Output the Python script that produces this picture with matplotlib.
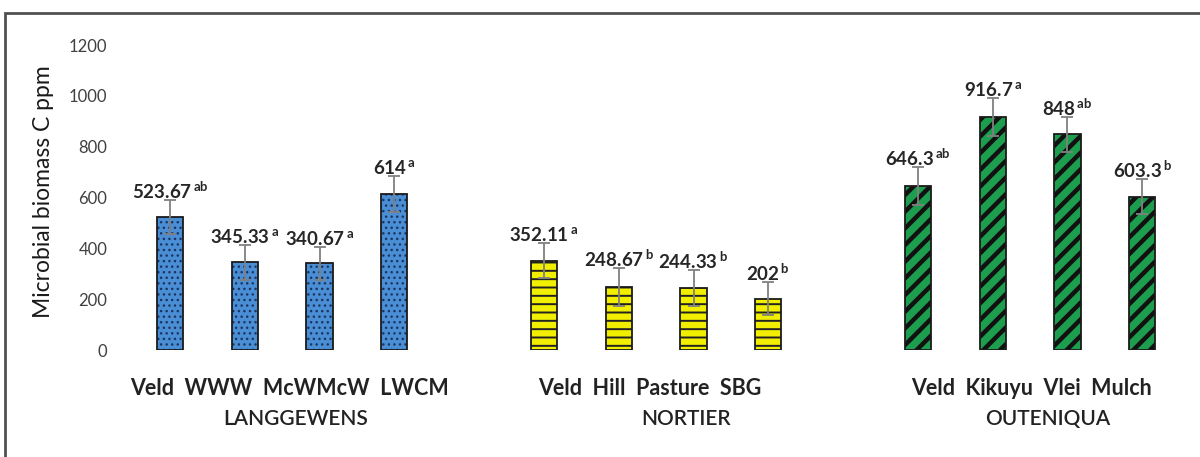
import numpy as np
import matplotlib
matplotlib.use('Agg')
import matplotlib.pyplot as plt
from matplotlib.transforms import blended_transform_factory
from matplotlib.patches import Rectangle

plt.rcParams['font.family'] = ['Lato', 'DejaVu Sans']
plt.rcParams['mathtext.fontset'] = 'custom'
plt.rcParams['mathtext.rm'] = 'Lato'
plt.rcParams['mathtext.bf'] = 'Lato:bold'

# data
sites = ['LANGGEWENS', 'NORTIER', 'OUTENIQUA']
cats_lang = ['Veld', 'WWW', 'McWMcW', 'LWCM']
cats_nort = ['Veld', 'Hill', 'Pasture', 'SBG']
cats_oute = ['Veld', 'Kikuyu', 'Vlei', 'Mulch']
vals_lang = [523.67, 345.33, 340.67, 614]
vals_nort = [352.11, 248.67, 244.33, 202]
vals_oute = [646.3, 916.7, 848, 603.3]
err_lang = [67, 68, 65, 71]
err_nort = [69, 74, 70, 66]
err_oute = [74, 75, 69, 70]
lbl_lang = ['523.67', '345.33', '340.67', '614']
lbl_nort = ['352.11', '248.67', '244.33', '202']
lbl_oute = ['646.3', '916.7', '848', '603.3']
sig_lang = ['ab', 'a', 'a', 'a']
sig_nort = ['a', 'b', 'b', 'b']
sig_oute = ['ab', 'a', 'ab', 'b']

# where the typed category line / site name sit, relative to the group's first bar
cat_line_off = [1.60, 1.42, 1.52]
site_off = [1.68, 1.90, 1.74]

groups = [
    (cats_lang, vals_lang, err_lang, lbl_lang, sig_lang, '#4a8fd6', '#1c3561', '...', 1.0),
    (cats_nort, vals_nort, err_nort, lbl_nort, sig_nort, '#f2ee00', '#222222', '--', 1.4),
    (cats_oute, vals_oute, err_oute, lbl_oute, sig_oute, '#1d9e4e', '#111111', '//', 3.2),
]

fig = plt.figure(figsize=(12, 4.57), dpi=100)
ax = fig.add_axes([0.0918, 0.234, 0.8975, 0.6675])
tr = blended_transform_factory(ax.transData, ax.transAxes)

start = 0
for gi, (cats, vals, errs, lbls, sigs, fc, hc, hatch, hlw) in enumerate(groups):
    x = np.arange(len(cats)) + start
    plt.rcParams['hatch.linewidth'] = hlw
    hb = ax.bar(x, vals, width=0.35, color=fc, edgecolor=hc, linewidth=0, hatch=hatch, zorder=2)
    for p in hb:
        if hasattr(p, 'set_hatch_linewidth'):
            p.set_hatch_linewidth(hlw)
    ax.bar(x, vals, width=0.35, fill=False, edgecolor='#1a1a1a', linewidth=1.3, zorder=3)
    ax.errorbar(x, vals, yerr=errs, fmt='none', ecolor='#808080', elinewidth=1.3,
                capsize=4, capthick=1.3, zorder=4)
    for xi, v, e, l, s in zip(x, vals, errs, lbls, sigs):
        ax.text(xi, v + e - 8, r'$\mathbf{%s}^{\,\mathbf{%s}}$' % (l, s), ha='center', va='bottom',
                fontsize=13.5, color='#262626', zorder=5)
    # category names were typed as one line under each group
    ax.text(start + cat_line_off[gi], -0.125, '  '.join(cats), transform=tr, ha='center',
            va='center', fontsize=15.5, fontweight='bold', color='#222222')
    ax.text(start + site_off[gi], -0.225, sites[gi], transform=tr, ha='center', va='center',
            fontsize=15, fontweight='semibold', color='#222222')
    start += len(cats) + 1

ax.set_xlim(-0.8, 13.6)
ax.set_ylim(0, 1200)
ax.set_yticks(range(0, 1201, 200))
ax.set_xticks([])
ax.tick_params(axis='y', length=0, pad=2, labelsize=12, labelcolor='#404040')
for sp in ax.spines.values():
    sp.set_visible(False)

fig.text(44 / 1200, 0.58, 'Microbial biomass C ppm', rotation=90, ha='center', va='center',
         fontsize=16.5, color='#1a1a1a')

# outer frame (only top and left edges visible in the source)
fig.patches.append(Rectangle((5 / 1200, -0.5), 2, 1.5 - 13 / 457, transform=fig.transFigure,
                             fill=False, edgecolor='#505050', linewidth=2))

fig.savefig('out.png', dpi=100)
